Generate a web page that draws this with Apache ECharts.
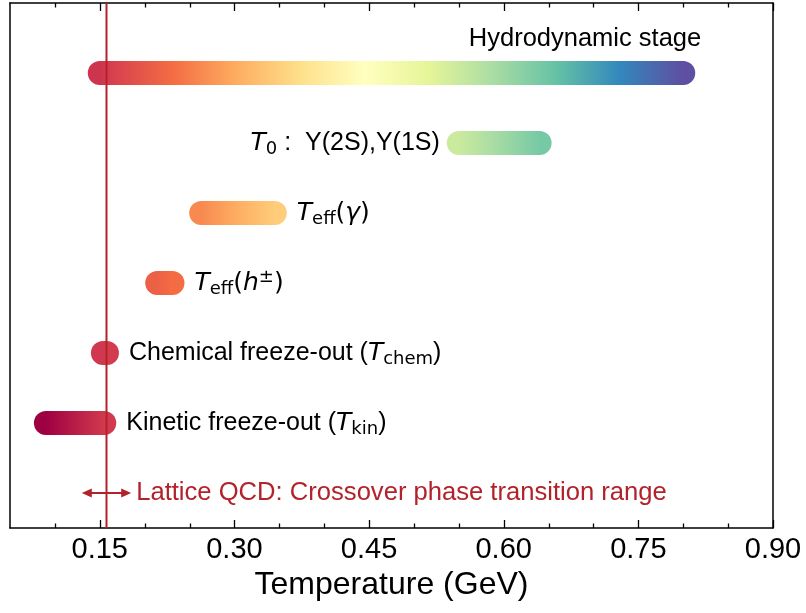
<!DOCTYPE html>
<html><head><meta charset="utf-8">
<script src="https://cdn.jsdelivr.net/npm/echarts@6/dist/echarts.min.js"></script>
<style>html,body{margin:0;padding:0;background:#fff}#c{width:806px;height:613px}</style>
</head><body><div id="c"></div>
<script>
// ---- data ----
const stageRows   = [7, 6, 5, 4, 3, 2];
const stageStart  = [0.15, 0.55, 0.263, 0.214, 0.1535, 0.09];
const stageEnd    = [0.80, 0.64, 0.345, 0.231, 0.158, 0.155];
const stageLabels = [
  '{h|Hydrodynamic stage}',
  '{i|T}{sub|0}{n| :  Υ(2S),Υ(1S)}',
  '{i|T}{sub|eff}{m|(}{i|γ}{m|)}',
  '{i|T}{sub|eff}{m|(}{i|h}{sup|±}{m|)}',
  '{n|Chemical freeze-out (}{i|T}{sub|chem}{n|)}',
  '{n|Kinetic freeze-out (}{i|T}{sub|kin}{n|)}'
];
const labelSide   = ['above', 'left', 'right', 'right', 'right', 'right'];
const latticeTc    = 0.1575;
const latticeRange = [0.13, 0.185];
const latticeRow   = 1;
const latticeLabel = 'Lattice QCD: Crossover phase transition range';
const majorTicks = [0.15, 0.30, 0.45, 0.60, 0.75, 0.90];
const minorTicks = [0.10, 0.20, 0.25, 0.35, 0.40, 0.50, 0.55, 0.65, 0.70, 0.80, 0.85];
const axisTitle = 'Temperature (GeV)';
const cmapColors = ['#9e0142','#d53e4f','#f46d43','#fdae61','#fee08b','#ffffbf','#e6f598','#abdda4','#66c2a5','#3288bd','#5e4fa2'];
const cmapMin = 0.09, cmapMax = 0.80;
const xMin = 0.05, xMax = 0.90, yMin = 0.5, yMax = 8;

// ---- helpers ----
const F = 'Liberation Sans';
const DV = 'DejaVu Sans';
const RED = '#b2222a';

function hexToRgb(h){return [parseInt(h.slice(1,3),16),parseInt(h.slice(3,5),16),parseInt(h.slice(5,7),16)];}
function cmap(v){
  let t=(v-cmapMin)/(cmapMax-cmapMin); t=Math.max(0,Math.min(1,t));
  const n=cmapColors.length-1, s=t*n, i=Math.min(n-1,Math.floor(s)), f=s-i;
  const c0=hexToRgb(cmapColors[i]), c1=hexToRgb(cmapColors[i+1]);
  return 'rgb('+c0.map((c,k)=>Math.round(c+(c1[k]-c)*f)).join(',')+')';
}
function stopsFor(a,b){
  const vals=[a];
  for(let i=0;i<cmapColors.length;i++){
    const v=cmapMin+i/(cmapColors.length-1)*(cmapMax-cmapMin);
    if(v>a&&v<b) vals.push(v);
  }
  vals.push(b);
  return vals.map(v=>({offset:(v-a)/(b-a), color:cmap(v)}));
}
const rich = {
  h:   {fontSize:25.5, fontFamily:F, lineHeight:30, fill:'#000'},
  n:   {fontSize:25, fontFamily:F, lineHeight:30, fill:'#000'},
  m:   {fontSize:25, fontFamily:DV, lineHeight:30, fill:'#000'},
  i:   {fontSize:25, fontFamily:DV, fontStyle:'italic', lineHeight:30, fill:'#000'},
  sub: {fontSize:18, fontFamily:DV, lineHeight:18, verticalAlign:'bottom', fill:'#000'},
  sup: {fontSize:18, fontFamily:DV, lineHeight:18, verticalAlign:'top', fill:'#000'}
};
const R = 12;

function renderStage(params, api){
  const idx = api.value(3);
  const row = api.value(0), a = api.value(1), b = api.value(2);
  const p0 = api.coord([a,row]), p1 = api.coord([b,row]);
  const children = [{
    type:'rect',
    shape:{x:p0[0]-R, y:p0[1]-R, width:(p1[0]-p0[0])+2*R, height:2*R, r:R},
    style:{fill:{type:'linear', x:p0[0], y:0, x2:p1[0], y2:0, global:true, colorStops:stopsFor(a,b)}}
  }];
  const side = labelSide[idx];
  let tx, ty, al;
  if (side==='above'){ tx=p1[0]+R+6; ty=p0[1]-34; al='right'; }
  else if (side==='left'){ tx=p0[0]-R-7; ty=p0[1]; al='right'; }
  else { tx=p1[0]+R+10; ty=p0[1]; al='left'; }
  children.push({
    type:'text',
    style:{x:tx, y:ty, text:stageLabels[idx], rich:rich, fontSize:25, fontFamily:F, fill:'#000',
           align:al, verticalAlign:'middle'}
  });
  return {type:'group', children};
}

function renderLattice(params, api){
  const cs = params.coordSys;
  const xc = api.coord([latticeTc, latticeRow])[0];
  const p0 = api.coord([latticeRange[0], latticeRow]), p1 = api.coord([latticeRange[1], latticeRow]);
  const y = p0[1], hl = 10, hw = 4.5;
  return {type:'group', children:[
    {type:'line', shape:{x1:xc, y1:cs.y, x2:xc, y2:cs.y+cs.height}, style:{stroke:RED, lineWidth:2}},
    {type:'line', shape:{x1:p0[0]+hl-1, y1:y, x2:p1[0]-hl+1, y2:y}, style:{stroke:RED, lineWidth:2}},
    {type:'polygon', shape:{points:[[p0[0],y],[p0[0]+hl,y-hw],[p0[0]+hl,y+hw]]}, style:{fill:RED}},
    {type:'polygon', shape:{points:[[p1[0],y],[p1[0]-hl,y-hw],[p1[0]-hl,y+hw]]}, style:{fill:RED}},
    {type:'text', style:{x:p1[0]+5, y:y, text:latticeLabel, fontSize:25.6, fontFamily:F, fill:RED,
                         align:'left', verticalAlign:'middle'}}
  ]};
}

// tick marks (inside, top and bottom), placed through the x scale
function renderTick(params, api){
  const cs = params.coordSys;
  const x = Math.round(api.coord([api.value(0), yMin])[0]) + 0.5;
  const len = api.value(1) ? 8 : 4.5;
  const yb = cs.y + cs.height, yt = cs.y;
  const st = {stroke:'#000', lineWidth:1.3};
  return {type:'group', children:[
    {type:'line', shape:{x1:x, y1:yb, x2:x, y2:yb-len}, style:st},
    {type:'line', shape:{x1:x, y1:yt, x2:x, y2:yt+len}, style:st}
  ]};
}

const axLine = {show:true, lineStyle:{color:'#000', width:1.5}};
const chart = echarts.init(document.getElementById('c'), null, {renderer:'canvas'});
chart.setOption({
  animation:false,
  backgroundColor:'#fff',
  grid:{left:10, right:33, top:3, bottom:85, containLabel:false},
  xAxis:[
    {type:'value', min:xMin, max:xMax, position:'bottom', axisLine:axLine,
     axisTick:{show:false},
     axisLabel:{show:true, customValues:majorTicks, formatter:v=>v.toFixed(2), fontSize:29, fontFamily:F, color:'#000', margin:7},
     splitLine:{show:false},
     name:axisTitle, nameLocation:'middle', nameGap:40,
     nameTextStyle:{fontSize:32, fontFamily:F, color:'#000'}},
    {type:'value', min:xMin, max:xMax, position:'top', axisLine:axLine,
     axisTick:{show:false}, axisLabel:{show:false}, splitLine:{show:false}}
  ],
  yAxis:[
    {type:'value', min:yMin, max:yMax, position:'left', axisLine:axLine, axisTick:{show:false}, axisLabel:{show:false}, splitLine:{show:false}},
    {type:'value', min:yMin, max:yMax, position:'right', axisLine:axLine, axisTick:{show:false}, axisLabel:{show:false}, splitLine:{show:false}}
  ],
  series:[
    {type:'custom', xAxisIndex:0, yAxisIndex:0, renderItem:renderTick, clip:false, silent:true,
     encode:{x:0},
     data: majorTicks.map(v=>[v,1]).concat(minorTicks.map(v=>[v,0]))},
    {type:'custom', xAxisIndex:0, yAxisIndex:0, renderItem:renderStage, clip:false,
     encode:{x:[1,2], y:0},
     data: stageRows.map((r,i)=>[r, stageStart[i], stageEnd[i], i])},
    {type:'custom', xAxisIndex:0, yAxisIndex:0, renderItem:renderLattice, clip:false,
     encode:{x:0, y:1},
     data:[[latticeTc, latticeRow]]}
  ]
});
</script></body></html>
